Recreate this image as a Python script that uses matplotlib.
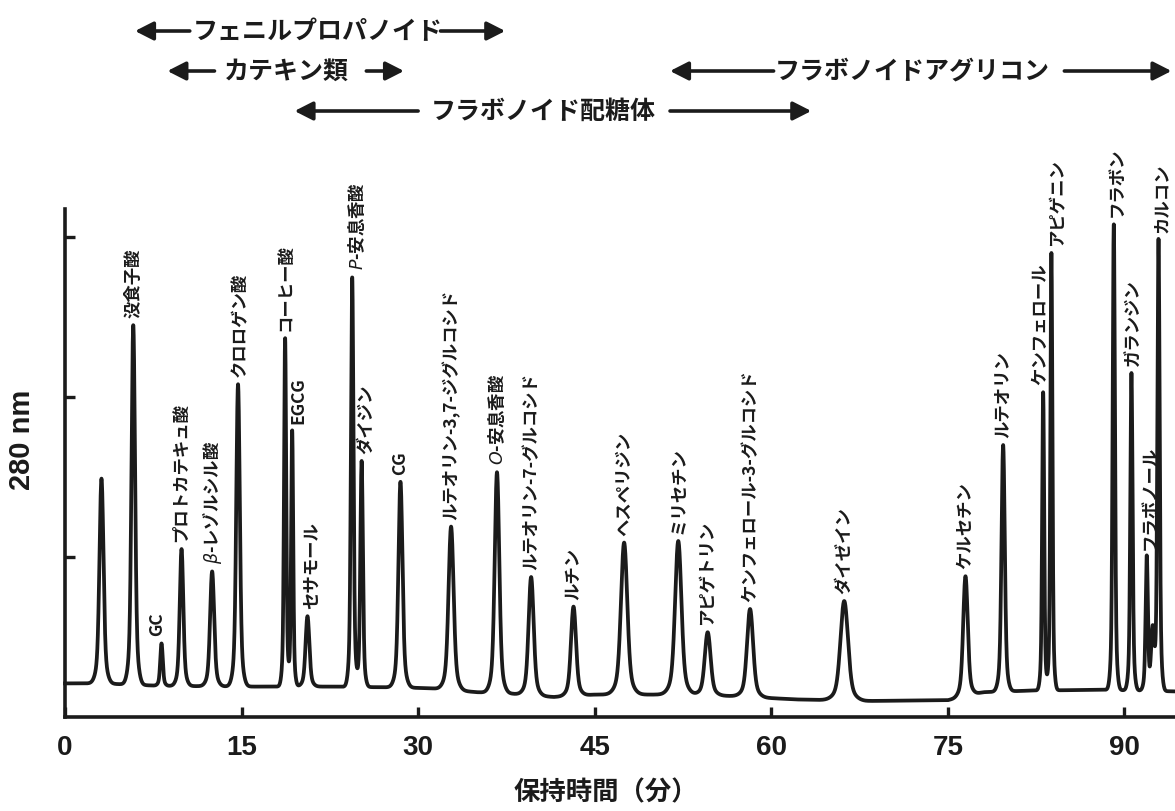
import numpy as np
import matplotlib
matplotlib.use("Agg")
import matplotlib.pyplot as plt
import matplotlib.transforms as mtransforms

plt.rcParams['font.family'] = ['Noto Sans CJK JP', 'DejaVu Sans']
plt.rcParams['mathtext.fontset'] = 'dejavusans'

# ---------------- data ----------------
peak_names = [
    "", "没食子酸", "GC", "プロトカテキュ酸", r"$\beta$-レゾルシル酸", "クロロゲン酸",
    "コーヒー酸", "EGCG", "セサモール", r"$P$-安息香酸", "ダイジン", "CG",
    "ルテオリン-3,7-ジグルコシド", r"$O$-安息香酸", "ルテオリン-7-グルコシド", "ルチン",
    "ヘスペリジン", "ミリセチン", "アピゲトリン", "ケンフェロール-3-グルコシド", "ダイゼイン",
    "ケルセチン", "ルテオリン", "ケンフェロール", "アピゲニン", "フラボン", "ガランジン",
    "フラボノール", "", "カルコン",
]
retention_min = [
    3.1, 5.8, 8.2, 9.9, 12.5, 14.7,
    18.7, 19.3, 20.6, 24.4, 25.2, 28.5,
    32.8, 36.7, 39.6, 43.2,
    47.5, 52.1, 54.6, 58.2, 66.2,
    76.5, 79.7, 83.1, 83.8, 89.1, 90.6,
    91.9, 92.4, 92.9,
]
apex_signal = [
    1.49, 2.45, 0.46, 1.05, 0.91, 2.08,
    2.37, 1.79, 0.63, 2.75, 1.60, 1.47,
    1.19, 1.53, 0.875, 0.69,
    1.09, 1.10, 0.53, 0.675, 0.725,
    0.88, 1.70, 2.03, 2.90, 3.08, 2.15,
    1.00, 0.55, 2.98,
]
peak_sigma = [
    0.16, 0.14, 0.10, 0.14, 0.16, 0.14,
    0.085, 0.08, 0.15, 0.10, 0.10, 0.16,
    0.20, 0.18, 0.20, 0.20,
    0.25, 0.25, 0.23, 0.24, 0.30,
    0.18, 0.13, 0.08, 0.08, 0.09, 0.09,
    0.09, 0.12, 0.09,
]
baseline_time = [0, 3, 8, 15, 22, 28, 31, 35, 38, 41.5, 45, 50, 53, 57, 62, 68, 75, 78, 82, 88, 94.3]
baseline_level = [0.21, 0.21, 0.195, 0.19, 0.19, 0.185, 0.18, 0.155, 0.145, 0.125, 0.14, 0.14,
                  0.14, 0.13, 0.11, 0.10, 0.105, 0.155, 0.165, 0.17, 0.16]

x_ticks = [0, 15, 30, 45, 60, 75, 90]
y_ticks = [1, 2, 3]
x_label = "保持時間（分）"
y_label = "280 nm"
group_names = ["フェニルプロパノイド", "カテキン類", "フラボノイド配糖体", "フラボノイドアグリコン"]

# ---------------- layout / style ----------------
W, H = 1175, 812
INK = "#1b1b1b"
label_dx = {2: -0.35, 5: 0.15, 7: 0.5, 8: 0.35, 9: 0.35, 10: 0.4,
            23: -0.25, 24: 0.5, 25: 0.25, 26: 0.15, 27: 0.25, 29: 0.25}
label_gap = 0.05
FOOT_FRAC, FOOT_WIDTH = 0.16, 2.2
# group arrows: (left head, left tail, text centre, right tail, right head) in minutes, row y in px
group_layout = [
    (5.95, 10.6, 21.5, 31.9, 37.4, 32),
    (8.7, 12.7, 18.8, 25.6, 28.8, 72),
    (19.5, 30.0, 40.6, 51.4, 63.4, 112),
    (51.4, 60.2, 72.0, 84.9, 94.0, 72),
]

fig = plt.figure(figsize=(W / 100, H / 100), dpi=100)
fig.patch.set_facecolor("white")
ax = fig.add_axes([65 / W, 94 / H, 1110 / W, 508 / H])

t = np.linspace(0, 94.3, 9000)
base = np.interp(t, baseline_time, baseline_level)
signal = base.copy()
for t0, a, s in zip(retention_min, apex_signal, peak_sigma):
    amp = a - np.interp(t0, baseline_time, baseline_level)
    core = np.exp(-0.5 * ((t - t0) / s) ** 2)
    foot = np.exp(-0.5 * ((t - t0) / (FOOT_WIDTH * s)) ** 2)
    signal += amp * ((1 - FOOT_FRAC) * core + FOOT_FRAC * foot)

ax.plot(t, signal, color=INK, lw=2.7, solid_joinstyle="round", clip_on=False)

ax.set_xlim(0, 94.3)
ax.set_ylim(0, 3.175)
for side in ("top", "right"):
    ax.spines[side].set_visible(False)
for side in ("left", "bottom"):
    ax.spines[side].set_linewidth(2.6)
    ax.spines[side].set_color(INK)
ax.set_xticks(x_ticks)
ax.set_yticks(y_ticks)
ax.set_yticklabels([])
ax.tick_params(direction="in", length=7, width=2.4, color=INK)
ax.tick_params(axis="x", pad=12)
ax.set_xticklabels([str(v) for v in x_ticks], fontsize=20, fontweight="bold",
                   family="Liberation Sans", color=INK)

for i, (name, t0, a) in enumerate(zip(peak_names, retention_min, apex_signal)):
    if not name:
        continue
    ax.text(t0 + label_dx.get(i, 0.0), a + label_gap, name, rotation=90,
            ha="center", va="bottom", fontsize=12.5, fontweight="bold",
            color=INK, clip_on=False)

fig.text(22 / W, 1 - 440 / H, y_label, rotation=90, fontsize=21, fontweight="bold",
         family="Liberation Sans", ha="center", va="center", color=INK)
fig.text(606 / W, 1 - 793 / H, x_label, fontsize=19, fontweight="bold",
         ha="center", va="center", color=INK)

trans = mtransforms.blended_transform_factory(ax.transData, fig.transFigure)
arrow_kw = dict(arrowstyle="-|>,head_length=0.55,head_width=0.28", lw=2.6, color=INK,
                shrinkA=0, shrinkB=0, mutation_scale=20)
for name, (lh, lt, tc, rt, rh, ypx) in zip(group_names, group_layout):
    yf = 1 - ypx / H
    ax.annotate("", xy=(lh, yf), xytext=(lt, yf), xycoords=trans, textcoords=trans,
                arrowprops=arrow_kw, annotation_clip=False)
    ax.annotate("", xy=(rh, yf), xytext=(rt, yf), xycoords=trans, textcoords=trans,
                arrowprops=arrow_kw, annotation_clip=False)
    ax.text(tc, yf, name, transform=trans, ha="center", va="center", fontsize=18,
            fontweight="bold", color=INK, clip_on=False)

fig.savefig("out.png", dpi=100)
